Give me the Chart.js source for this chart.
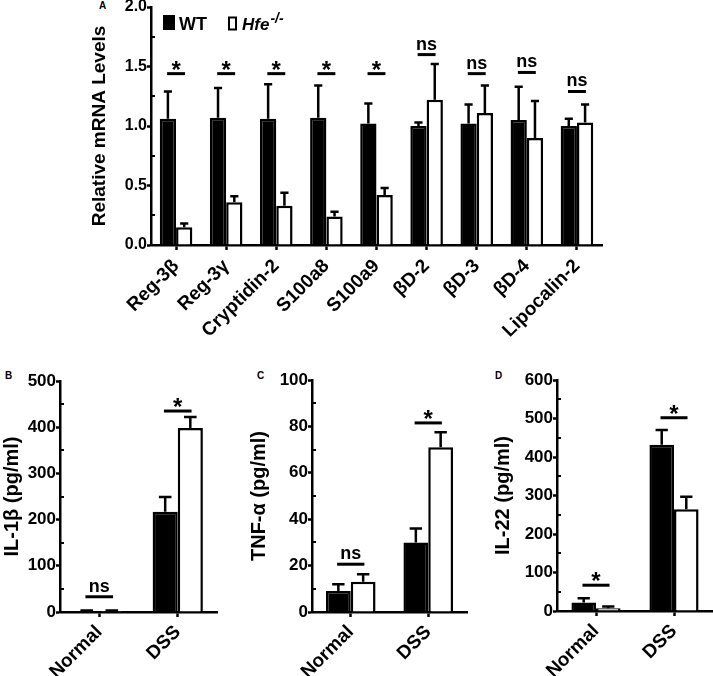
<!DOCTYPE html>
<html>
<head>
<meta charset="utf-8">
<script src="https://cdn.jsdelivr.net/npm/chart.js@4.4.1/dist/chart.umd.min.js"></script>
<style>
  body { margin: 0; background: #fff; width: 713px; height: 676px; position: relative; overflow: hidden; }
  canvas { position: absolute; }
  .tag { position: absolute; font: bold 10px "Liberation Sans", Arial, sans-serif; color: #000; }
</style>
</head>
<body>
<div class="tag" style="left:99px;top:0px">A</div>
<div class="tag" style="left:5px;top:370px">B</div>
<div class="tag" style="left:257px;top:370px">C</div>
<div class="tag" style="left:495px;top:370px">D</div>
<canvas id="chartA" width="713" height="375" style="left:0;top:-10px"></canvas>
<canvas id="chartB" width="235" height="316" style="left:0;top:360px"></canvas>
<canvas id="chartC" width="235" height="316" style="left:235px;top:360px"></canvas>
<canvas id="chartD" width="243" height="316" style="left:470px;top:360px"></canvas>
<script>
const font = '"Liberation Sans", Arial, Helvetica, sans-serif'

// A - antimicrobial peptides, relative mRNA
const genes = ['Reg-3β', 'Reg-3γ', 'Cryptidin-2', 'S100a8', 'S100a9', 'βD-2', 'βD-3', 'βD-4', 'Lipocalin-2']
const wtA = [1.06, 1.07, 1.06, 1.07, 1.02, 1.00, 1.02, 1.05, 1.00]
const wtSemA = [0.23, 0.25, 0.29, 0.27, 0.17, 0.03, 0.16, 0.28, 0.06]
const hfeA = [0.15, 0.36, 0.33, 0.24, 0.42, 1.22, 1.11, 0.90, 1.03]
const hfeSemA = [0.03, 0.05, 0.11, 0.04, 0.06, 0.30, 0.23, 0.31, 0.15]
const sigA = ['*', '*', '*', '*', '*', 'ns', 'ns', 'ns', 'ns']
const sigLevelA = [1.44, 1.44, 1.44, 1.44, 1.44, 1.60, 1.44, 1.45, 1.29]

// B, C, D - cytokines
const groups = ['Normal', 'DSS']
const wtB = [2, 217], wtSemB = [1, 32]
const hfeB = [2, 398], hfeSemB = [1, 24]
const sigB = ['ns', '*'], sigLevelB = [33, 435]

const wtC = [9, 30], wtSemC = [3, 6]
const hfeC = [13, 71], hfeSemC = [3.3, 6.5]
const sigC = ['ns', '*'], sigLevelC = [20.6, 81.5]

const wtD = [22, 432], wtSemD = [11, 38]
const hfeD = [7, 264], hfeSemD = [5, 33]
const sigD = ['*', '*'], sigLevelD = [67, 502]

const errorBars = {
  id: 'errorBars',
  afterDatasetsDraw(chart) {
    const ctx = chart.ctx
    const y = chart.scales.y
    ctx.save()
    ctx.strokeStyle = '#000'
    ctx.lineWidth = 2.5
    chart.data.datasets.forEach((ds, i) => {
      chart.getDatasetMeta(i).data.forEach((bar, j) => {
        const top = y.getPixelForValue(ds.data[j] + ds.sem[j])
        const cap = bar.width * 0.25
        ctx.beginPath()
        ctx.moveTo(bar.x, bar.y)
        ctx.lineTo(bar.x, top)
        ctx.moveTo(bar.x - cap, top)
        ctx.lineTo(bar.x + cap, top)
        ctx.stroke()
      })
    })
    ctx.restore()
  }
}

const sigMarks = {
  id: 'sig',
  afterDatasetsDraw(chart, args, opts) {
    const { ctx, scales: { x, y } } = chart
    const half = chart.getDatasetMeta(0).data[0].width * 0.55
    ctx.save()
    ctx.fillStyle = '#000'
    ctx.strokeStyle = '#000'
    ctx.lineWidth = 3
    ctx.textAlign = 'center'
    opts.marks.forEach((m, i) => {
      const cx = x.getPixelForValue(i)
      const py = y.getPixelForValue(opts.levels[i])
      ctx.beginPath()
      ctx.moveTo(cx - half, py)
      ctx.lineTo(cx + half, py)
      ctx.stroke()
      if (m === '*') {
        ctx.font = `bold 24px ${font}`
        ctx.fillText(m, cx, py + 4)
      } else {
        ctx.font = `bold 18px ${font}`
        ctx.fillText(m, cx, py - 5)
      }
    })
    ctx.restore()
  }
}

//small inward ticks between the labelled ones
const minorTicks = {
  id: 'minor',
  afterDraw(chart, args, opts) {
    const ctx = chart.ctx
    const y = chart.scales.y
    ctx.save()
    ctx.strokeStyle = '#000'
    ctx.lineWidth = 2
    for (let v = opts.step; v < y.max; v += opts.step * 2) {
      const py = Math.round(y.getPixelForValue(v))
      ctx.beginPath()
      ctx.moveTo(y.right, py)
      ctx.lineTo(y.right + 4, py)
      ctx.stroke()
    }
    ctx.restore()
  }
}

const legendA = {
  id: 'legendA',
  afterDraw(chart) {
    const { ctx, chartArea: a } = chart
    const x0 = a.left + 12, y0 = a.top + 8
    ctx.save()
    ctx.fillStyle = '#000'
    ctx.strokeStyle = '#000'
    ctx.fillRect(x0, y0, 12, 15)
    ctx.font = `bold 18px ${font}`
    ctx.fillText('WT', x0 + 16, y0 + 15)
    ctx.lineWidth = 2
    ctx.strokeRect(x0 + 66, y0 + 2.5, 7, 12)
    ctx.font = `italic bold 17px ${font}`
    ctx.fillText('Hfe', x0 + 79, y0 + 15)
    const w = ctx.measureText('Hfe').width
    ctx.font = `italic bold 14px ${font}`
    ctx.fillText('-/-', x0 + 80 + w, y0 + 8)
    ctx.restore()
  }
}

function barChart(id, o) {
  return new Chart(document.getElementById(id), {
    type: 'bar',
    data: {
      labels: o.labels,
      datasets: [
        { label: 'WT', data: o.wt, sem: o.wtSem, backgroundColor: '#000', borderColor: '#000', borderWidth: 2.5,
          categoryPercentage: o.catPct, barPercentage: 1 },
        { label: 'Hfe-/-', data: o.hfe, sem: o.hfeSem, backgroundColor: '#fff', borderColor: '#000', borderWidth: 2.5,
          categoryPercentage: o.catPct, barPercentage: 1 }
      ]
    },
    options: {
      responsive: false,
      animation: false,
      devicePixelRatio: 1,
      layout: { padding: o.pad },
      plugins: {
        legend: { display: false },
        tooltip: { enabled: false },
        sig: { marks: o.sig, levels: o.sigLevel },
        minor: { step: o.minor }
      },
      scales: {
        x: {
          grid: { drawOnChartArea: false, offset: false, color: '#000', tickLength: 5, tickWidth: 2.5 },
          border: { color: '#000', width: 2.5 },
          ticks: { color: '#000', font: { family: font, size: 19, weight: 'bold' }, minRotation: 45, maxRotation: 45, autoSkip: false, padding: o.xPad },
          afterFit: s => { s.height = o.xHeight; s.paddingLeft = 0; s.paddingRight = 0 }
        },
        y: {
          min: 0,
          max: o.max,
          grid: { drawOnChartArea: false, color: '#000', tickLength: 4, tickWidth: 2.5 },
          border: { color: '#000', width: 2.5 },
          ticks: { color: '#000', font: { family: font, size: o.tickSize, weight: 'bold' }, stepSize: o.step, padding: 0, callback: o.fmt },
          title: { display: true, text: o.title, color: '#000', font: { family: font, size: o.titleSize, weight: 'bold' }, padding: 0 },
          afterFit: s => { s.width = o.yWidth; s.paddingTop = 0; s.paddingBottom = 0 }
        }
      }
    },
    plugins: [errorBars, sigMarks, minorTicks].concat(o.extra || [])
  })
}

barChart('chartA', {
  labels: genes, wt: wtA, wtSem: wtSemA, hfe: hfeA, hfeSem: hfeSemA, sig: sigA, sigLevel: sigLevelA,
  max: 2, step: 0.5, minor: 0.25, fmt: v => v.toFixed(1), title: 'Relative mRNA Levels',
  tickSize: 16, titleSize: 19, xPad: 5, catPct: 0.65, pad: { left: 88, top: 17, right: 111, bottom: 0 }, yWidth: 63, xHeight: 120,
  extra: [legendA]
})

barChart('chartB', {
  labels: groups, wt: wtB, wtSem: wtSemB, hfe: hfeB, hfeSem: hfeSemB, sig: sigB, sigLevel: sigLevelB,
  max: 500, step: 100, minor: 50, fmt: v => v, title: 'IL-1β (pg/ml)',
  tickSize: 17, titleSize: 20, xPad: 4, catPct: 0.64, pad: { left: 0, top: 21, right: 18, bottom: 0 }, yWidth: 60, xHeight: 64
})

barChart('chartC', {
  labels: groups, wt: wtC, wtSem: wtSemC, hfe: hfeC, hfeSem: hfeSemC, sig: sigC, sigLevel: sigLevelC,
  max: 100, step: 20, minor: 10, fmt: v => v, title: 'TNF-α (pg/ml)',
  tickSize: 17, titleSize: 20, xPad: 4, catPct: 0.64, pad: { left: 12, top: 20, right: 3, bottom: 0 }, yWidth: 65, xHeight: 64
})

barChart('chartD', {
  labels: groups, wt: wtD, wtSem: wtSemD, hfe: hfeD, hfeSem: hfeSemD, sig: sigD, sigLevel: sigLevelD,
  max: 600, step: 100, minor: 50, fmt: v => v, title: 'IL-22 (pg/ml)',
  tickSize: 17, titleSize: 20, xPad: 4, catPct: 0.63, pad: { left: 21, top: 20, right: 0, bottom: 0 }, yWidth: 66, xHeight: 65
})
</script>
</body>
</html>
